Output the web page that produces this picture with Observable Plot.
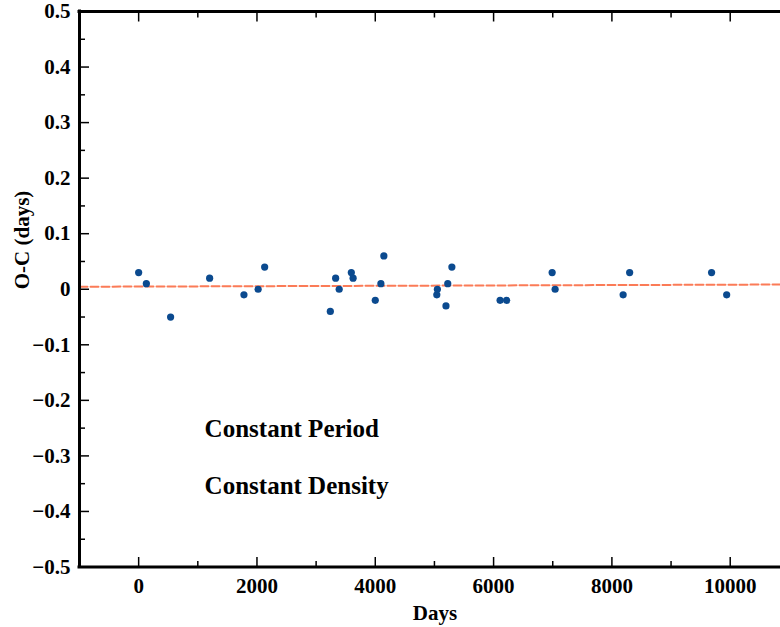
<!DOCTYPE html>
<html><head><meta charset="utf-8">
<script src="https://cdn.jsdelivr.net/npm/d3@7"></script>
<script src="https://cdn.jsdelivr.net/npm/@observablehq/plot@0.6"></script>
<style>
html,body{margin:0;padding:0;background:#fff;}
#chart svg{display:block;}
</style>
</head><body><div id="chart"></div>
<script>
// Observations
const days = [0, 130, 540, 1200, 1780, 2020, 2130, 3240, 3330, 3390, 3595, 3625, 4000, 4095, 4145, 5040, 5050, 5195, 5225, 5295, 6110, 6220, 6990, 7040, 8190, 8300, 9685, 9940];
const oc   = [0.03, 0.01, -0.05, 0.02, -0.01, 0, 0.04, -0.04, 0.02, 0, 0.03, 0.02, -0.02, 0.01, 0.06, -0.01, 0, -0.03, 0.01, 0.04, -0.02, -0.02, 0.03, 0, -0.01, 0.03, 0.03, -0.01];
// Constant-period fit line
const fitDays = [-1000, 10850];
const fitOC = [0.0045, 0.0085];
// Axes
const xDomain = [-1000, 10850];
const yDomain = [-0.5, 0.5];
const xMajorTicks = [0, 2000, 4000, 6000, 8000, 10000];
const xTickLabels = ["0", "2000", "4000", "6000", "8000", "10000"];
const xMinorTicks = [1000, 3000, 5000, 7000, 9000];
const yMajorTicks = [-0.5, -0.4, -0.3, -0.2, -0.1, 0, 0.1, 0.2, 0.3, 0.4, 0.5];
const yTickLabels = ["\u22120.5", "\u22120.4", "\u22120.3", "\u22120.2", "\u22120.1", "0", "0.1", "0.2", "0.3", "0.4", "0.5"];
const yMinorTicks = [-0.45, -0.35, -0.25, -0.15, -0.05, 0.05, 0.15, 0.25, 0.35, 0.45];
// Annotations
const noteX = [1115, 1115];
const noteY = [-0.252, -0.354];
const noteText = ["Constant Period", "Constant Density"];
const xLabel = "Days";
const yLabel = "O-C (days)";

const points = days.map((d, i) => ({day: d, oc: oc[i]}));
const fit = fitDays.map((d, i) => ({day: d, oc: fitOC[i]}));
const notes = noteText.map((t, i) => ({x: noteX[i], y: noteY[i], text: t}));

const blank = () => "";
const chart = Plot.plot({
  width: 780,
  height: 627,
  marginLeft: 79,
  marginRight: 0,
  marginTop: 11,
  marginBottom: 60.5,
  style: {fontFamily: "'Liberation Serif', 'Times New Roman', serif", fontWeight: "bold", fontSize: "21px", color: "#000", background: "#fff"},
  x: {domain: xDomain},
  y: {domain: yDomain},
  marks: [
    Plot.line(fit, {x: "day", y: "oc", stroke: "#fb7b57", strokeWidth: 2, strokeDasharray: "8,3"}),
    Plot.dot(points, {x: "day", y: "oc", r: 3.6, fill: "#0b4a8f", stroke: null}),
    // major & minor ticks (inward)
    Plot.axisX(xMajorTicks, {anchor: "bottom", tickSize: -9.5, tickPadding: 20.5, strokeWidth: 1.5, tickFormat: d => xTickLabels[xMajorTicks.indexOf(d)], label: null}),
    Plot.axisX(xMinorTicks, {anchor: "bottom", tickSize: -5.5, strokeWidth: 1.5, tickFormat: blank, label: null}),
    Plot.axisX(xMajorTicks, {anchor: "top", tickSize: -9.5, strokeWidth: 1.5, tickFormat: blank, label: null}),
    Plot.axisX(xMinorTicks, {anchor: "top", tickSize: -5.5, strokeWidth: 1.5, tickFormat: blank, label: null}),
    Plot.axisY(yMajorTicks, {anchor: "left", tickSize: -10, tickPadding: 19, strokeWidth: 1.5, tickFormat: d => yTickLabels[yMajorTicks.indexOf(d)], label: null}),
    Plot.axisY(yMinorTicks, {anchor: "left", tickSize: -6, strokeWidth: 1.5, tickFormat: blank, label: null}),
    // spines
    Plot.ruleY(yDomain, {strokeWidth: 3, strokeLinecap: "square"}),
    Plot.ruleX([xDomain[0]], {strokeWidth: 3, strokeLinecap: "square"}),
    // axis titles
    Plot.text([xLabel], {frameAnchor: "bottom", dx: 5, dy: 53, lineAnchor: "bottom", fontSize: 21}),
    Plot.text([yLabel], {frameAnchor: "left", dx: -57, rotate: -90, lineAnchor: "middle", fontSize: 21}),
    // annotations
    Plot.text(notes, {x: "x", y: "y", text: "text", textAnchor: "start", lineAnchor: "middle", fontSize: 25})
  ]
});
document.getElementById("chart").appendChild(chart);
</script>
</body></html>
